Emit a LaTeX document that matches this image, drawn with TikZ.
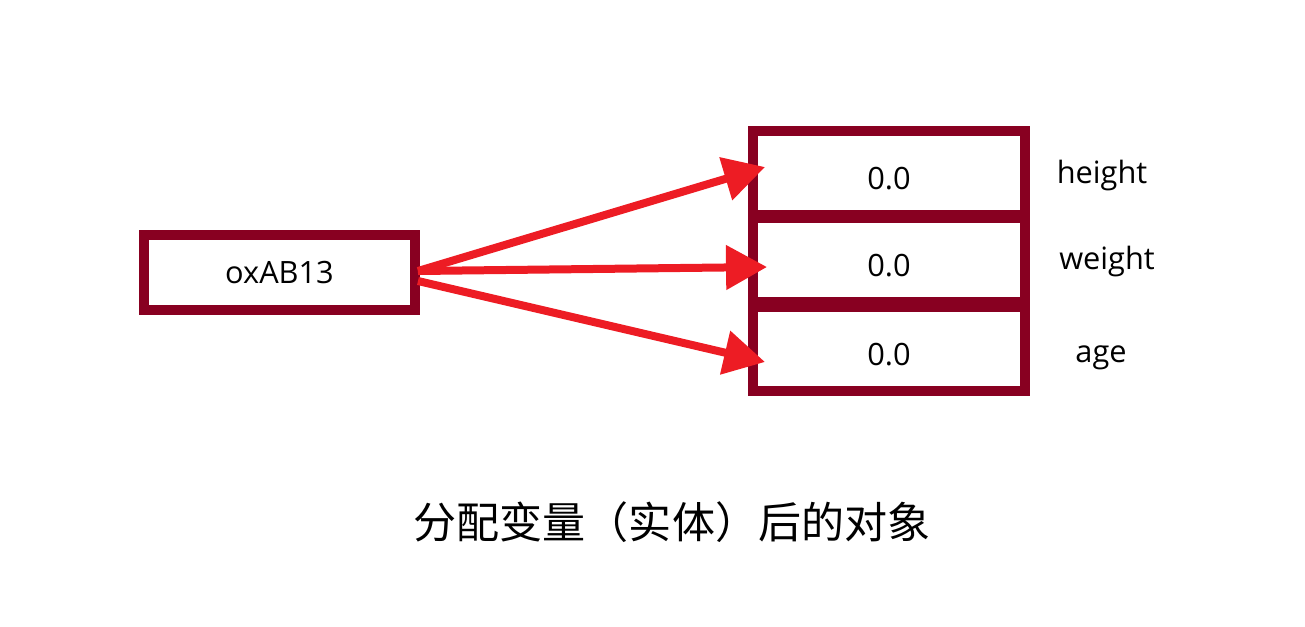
\documentclass[tikz,border=0pt]{standalone}
\usepackage{fontspec}
\setmainfont{Open Sans}
\newfontfamily\cjk{Noto Sans CJK SC}
\usepackage{tikz}
\usetikzlibrary{shapes, arrows, arrows.meta, positioning, calc}

\definecolor{boxred}{RGB}{136,0,33}
\definecolor{arrowred}{RGB}{237,28,36}

\begin{document}
\begin{tikzpicture}[x=0.02cm, y=-0.02cm]
                    \tikzstyle{cell} = [draw=boxred, rectangle, line width=0.2cm, minimum width=5.44cm, minimum height=1.68cm, inner sep=0pt, font=\fontsize{17.5}{21}\selectfont]
                    \tikzstyle{value} = [cell, text height=19.3pt, text depth=0pt]
                    \tikzstyle{field} = [font=\fontsize{17.5}{21}\selectfont]
                    \tikzstyle{ref} = [draw=arrowred, line width=0.16cm, -{Triangle[length=0.82cm, width=0.86cm]}]
                    \useasboundingbox (0, 0) rectangle (1305, 626);

                    \node[cell, minimum width=5.42cm, minimum height=1.5cm] (ptr) at (279.5, 272.5) {oxAB13};
                    \node[value] (height) at (889, 173) {0.0};
                    \node[value] (weight) at (889, 260) {0.0};
                    \node[value] (age) at (889, 349) {0.0};

                    \node[field] (heightlbl) at (1102, 176) {height};
                    \node[field] (weightlbl) at (1107, 262) {weight};
                    \node[field] (agelbl) at (1101, 358) {age};

                    \node[font=\cjk\fontsize{24.5}{29}\selectfont] (caption) at (672, 522) {分配变量（实体）后的对象};

                    \draw[ref] ([xshift=-0.04cm, yshift=0.03cm]ptr.east) -- ([xshift=0.34cm, yshift=0.12cm]height.west);
                    \draw[ref] ([xshift=-0.04cm, yshift=0.03cm]ptr.east) -- ([xshift=0.38cm, yshift=-0.14cm]weight.west);
                    \draw[ref] ([xshift=-0.04cm, yshift=-0.17cm]ptr.east) -- ([xshift=0.34cm, yshift=-0.26cm]age.west);
                \end{tikzpicture}
\end{document}
